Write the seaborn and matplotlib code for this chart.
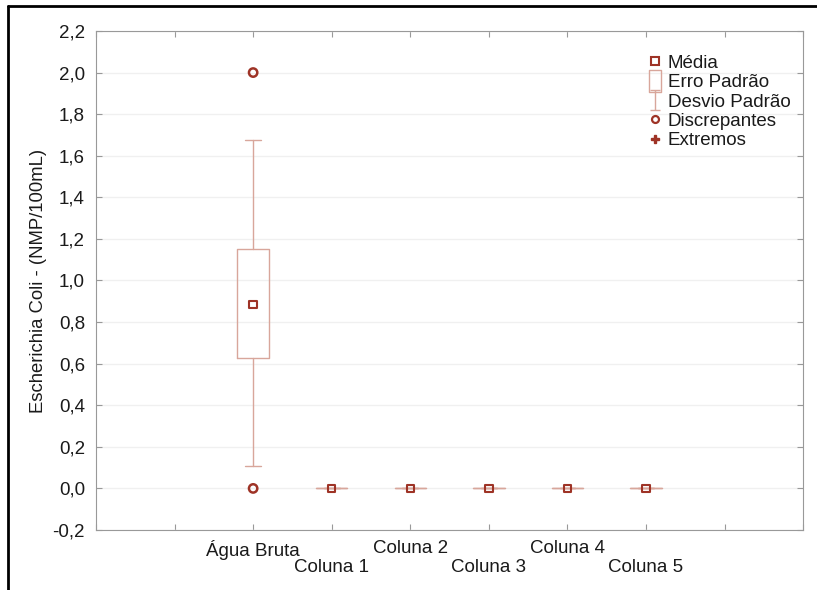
import numpy as np
import pandas as pd
import matplotlib
matplotlib.use("Agg")
import matplotlib.pyplot as plt
import seaborn as sns
from matplotlib.ticker import FuncFormatter
from matplotlib.lines import Line2D
from matplotlib.path import Path

# data
groups = ["Água Bruta", "Coluna 1", "Coluna 2", "Coluna 3", "Coluna 4", "Coluna 5"]
means = [0.885, 0.0, 0.0, 0.0, 0.0, 0.0]
se_low = [0.625, 0.0, 0.0, 0.0, 0.0, 0.0]
se_high = [1.15, 0.0, 0.0, 0.0, 0.0, 0.0]
sd_low = [0.11, 0.0, 0.0, 0.0, 0.0, 0.0]
sd_high = [1.675, 0.0, 0.0, 0.0, 0.0, 0.0]
outlier_group = ["Água Bruta", "Água Bruta"]
outlier_values = [2.0, 0.0]

box_col = "#d8a69b"
dark_col = "#9e3326"

sns.set_style("ticks")
plt.rcParams['font.family'] = ['Liberation Sans', 'DejaVu Sans']

fig = plt.figure(figsize=(8.17, 5.90), dpi=100)
ax = fig.add_axes([0.1175, 0.1017, 0.8655, 0.8458])

# box = mean +/- SE, whiskers = mean +/- SD
stats = []
for i, g in enumerate(groups):
    stats.append({"label": g, "med": means[i], "q1": se_low[i], "q3": se_high[i],
                  "whislo": sd_low[i], "whishi": sd_high[i], "fliers": []})
ax.bxp(stats, positions=range(len(groups)), widths=0.4, showfliers=False,
       boxprops=dict(color=box_col, linewidth=1),
       whiskerprops=dict(color=box_col, linewidth=1),
       capprops=dict(color=box_col, linewidth=1),
       medianprops=dict(linewidth=0), capwidths=0.2)

df_mean = pd.DataFrame({"grupo": range(len(groups)), "media": means})
sns.scatterplot(data=df_mean, x="grupo", y="media", ax=ax, marker="s", s=28,
                facecolor="none", edgecolor=dark_col, linewidth=1.5, zorder=5)

df_out = pd.DataFrame({"grupo": [groups.index(g) for g in outlier_group],
                       "valor": outlier_values})
sns.scatterplot(data=df_out, x="grupo", y="valor", ax=ax, marker="o", s=36,
                facecolor="none", edgecolor=dark_col, linewidth=1.8, zorder=5)

ax.set_xlim(-2, 7)
ax.set_ylim(-0.2, 2.2)
ax.set_yticks(np.arange(-0.2, 2.21, 0.2))
ax.yaxis.set_major_formatter(FuncFormatter(lambda v, p: f"{v:.1f}".replace(".", ",").replace("-0,0", "0,0")))
xt = list(range(-2, 8))
xl = [""] * len(xt)
for i, g in enumerate(groups):
    xl[i + 2] = g if i % 2 == 0 else "\n" + g
ax.set_xticks(xt)
ax.set_xticklabels(xl)
ax.set_xlabel("")
ax.set_ylabel("Escherichia Coli - (NMP/100mL)", fontsize=13.3, color="#1a1a1a", labelpad=4)
ax.tick_params(axis="both", direction="in", top=True, right=True, length=4,
               color="#999999", labelsize=13.5, labelcolor="#1a1a1a")
ax.tick_params(axis="x", pad=7)
ax.tick_params(axis="y", pad=8)
ax.yaxis.grid(True, color="#f0f0f0", linewidth=1)
for s in ax.spines.values():
    s.set_color("#999999")

# legend symbols
tall_rect = Path([(-0.55, -1), (0.55, -1), (0.55, 1), (-0.55, 1), (-0.55, -1)],
                 [Path.MOVETO, Path.LINETO, Path.LINETO, Path.LINETO, Path.CLOSEPOLY])
i_beam = Path([(-0.5, 1), (0.5, 1), (0, 1), (0, -1), (-0.5, -1), (0.5, -1)],
              [Path.MOVETO, Path.LINETO, Path.MOVETO, Path.LINETO, Path.MOVETO, Path.LINETO])
handles = [
    Line2D([], [], marker="s", linestyle="none", markersize=6, markerfacecolor="none",
           markeredgecolor=dark_col, markeredgewidth=1.5),
    Line2D([], [], marker=tall_rect, linestyle="none", markersize=16, markerfacecolor="none",
           markeredgecolor=box_col, markeredgewidth=1),
    Line2D([], [], marker=i_beam, linestyle="none", markersize=14, markerfacecolor="none",
           markeredgecolor=box_col, markeredgewidth=1),
    Line2D([], [], marker="o", linestyle="none", markersize=5, markerfacecolor="none",
           markeredgecolor=dark_col, markeredgewidth=1.6),
    Line2D([], [], marker="P", linestyle="none", markersize=6, color=dark_col),
]
labels = ["Média", "Erro Padrão", "Desvio Padrão", "Discrepantes", "Extremos"]
leg = ax.legend(handles, labels, loc="upper right", bbox_to_anchor=(0.998, 0.975), frameon=False,
                fontsize=13.5, handlelength=0.8, handletextpad=0.3, labelspacing=0.12,
                borderaxespad=0.2)
for t in leg.get_texts():
    t.set_color("#1a1a1a")

# page frame around the figure
fig.add_artist(Line2D([0.0098, 0.0098], [0.0, 0.99], transform=fig.transFigure,
                      color="black", linewidth=2))
fig.add_artist(Line2D([0.0098, 1.0], [0.99, 0.99], transform=fig.transFigure,
                      color="black", linewidth=2))

fig.savefig("out.png", dpi=100)
